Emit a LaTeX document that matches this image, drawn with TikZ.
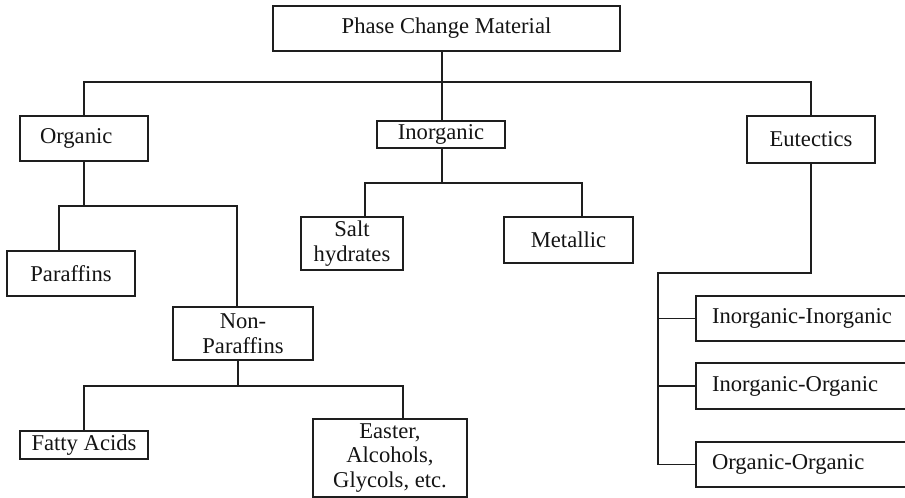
\documentclass[tikz,border=0pt]{standalone}
\usepackage{fontspec}
\setmainfont{Liberation Serif}
\usepackage{tikz}
\usetikzlibrary{positioning, calc}
\definecolor{inkline}{HTML}{1E1E1E}
\definecolor{inktext}{HTML}{141414}
\tikzset{
  pcmbox/.style={draw=inkline, line width=1.8pt, fill=white, text=inktext,
    inner sep=0pt, align=center, font=\fontsize{22.6}{24.5}\selectfont},
  tree/.style={draw=inkline, line width=1.8pt}
}

\begin{document}
\begin{tikzpicture}[x=1pt, y=-1pt]
    \clip (0,0) rectangle (905,498);
    \fill[white] (0,0) rectangle (905,498);
    % top level
    \node[pcmbox, minimum width=347pt, minimum height=45pt] (pcm) at (446.5,28.5) {Phase Change Material};
    \node[pcmbox, minimum width=128pt, minimum height=45pt, text width=88pt, align=left] (org) at (84,138.5) {Organic};
    \node[pcmbox, minimum width=128pt, minimum height=27pt] (inorg) at (441,134.5) {Inorganic};
    \node[pcmbox, minimum width=128pt, minimum height=47pt] (eut) at (811,139.5) {Eutectics};
    % organic branch
    \node[pcmbox, minimum width=128pt, minimum height=45pt] (par) at (71,273.5) {Paraffins};
    \node[pcmbox, minimum width=140pt, minimum height=53pt] (nonpar) at (243,333.5) {Non-\\Paraffins};
    \node[pcmbox, minimum width=128pt, minimum height=28pt] (fatty) at (84,445) {Fatty Acids};
    \node[pcmbox, minimum width=154pt, minimum height=78pt] (easter) at (390,458) {Easter,\\Alcohols,\\Glycols, etc.};
    % inorganic branch
    \node[pcmbox, minimum width=102pt, minimum height=53pt] (salt) at (352,243.5) {Salt\\hydrates};
    \node[pcmbox, minimum width=129pt, minimum height=46pt] (metal) at (568.5,240) {Metallic};
    % eutectic branch
    \node[pcmbox, minimum width=214pt, minimum height=45pt, text width=182pt, align=left] (ii) at (803,318.5) {Inorganic-Inorganic};
    \node[pcmbox, minimum width=214pt, minimum height=46pt, text width=182pt, align=left] (io) at (803,386) {Inorganic-Organic};
    \node[pcmbox, minimum width=214pt, minimum height=45pt, text width=182pt, align=left] (oo) at (803,464.5) {Organic-Organic};
    % connectors
    \coordinate (bus1) at (442,82);
    \coordinate (bus2) at (84,206);
    \coordinate (bus3) at (442,183);
    \coordinate (bus4) at (238,386);
    \coordinate (bus5) at (658,273);
    \draw[tree] (pcm.south -| bus1) -- (inorg.north -| bus1);
    \draw[tree] (org.north) |- (bus1) -| (eut.north);
    \draw[tree] (org.south) -- (bus2);
    \draw[tree] ([xshift=-12pt]par.north) |- (bus2) -| ([xshift=-6pt]nonpar.north);
    \draw[tree] (inorg.south -| bus3) -- (bus3);
    \draw[tree] ([xshift=13pt]salt.north) |- (bus3) -| ([xshift=13.5pt]metal.north);
    \draw[tree] (nonpar.south -| bus4) -- (bus4);
    \draw[tree] (fatty.north) |- (bus4) -| ([xshift=13pt]easter.north);
    \draw[tree] (eut.south) |- (bus5) |- (oo.west);
    \draw[tree] (bus5 |- ii.west) -- (ii.west);
    \draw[tree] (bus5 |- io.west) -- (io.west);
\end{tikzpicture}
\end{document}
